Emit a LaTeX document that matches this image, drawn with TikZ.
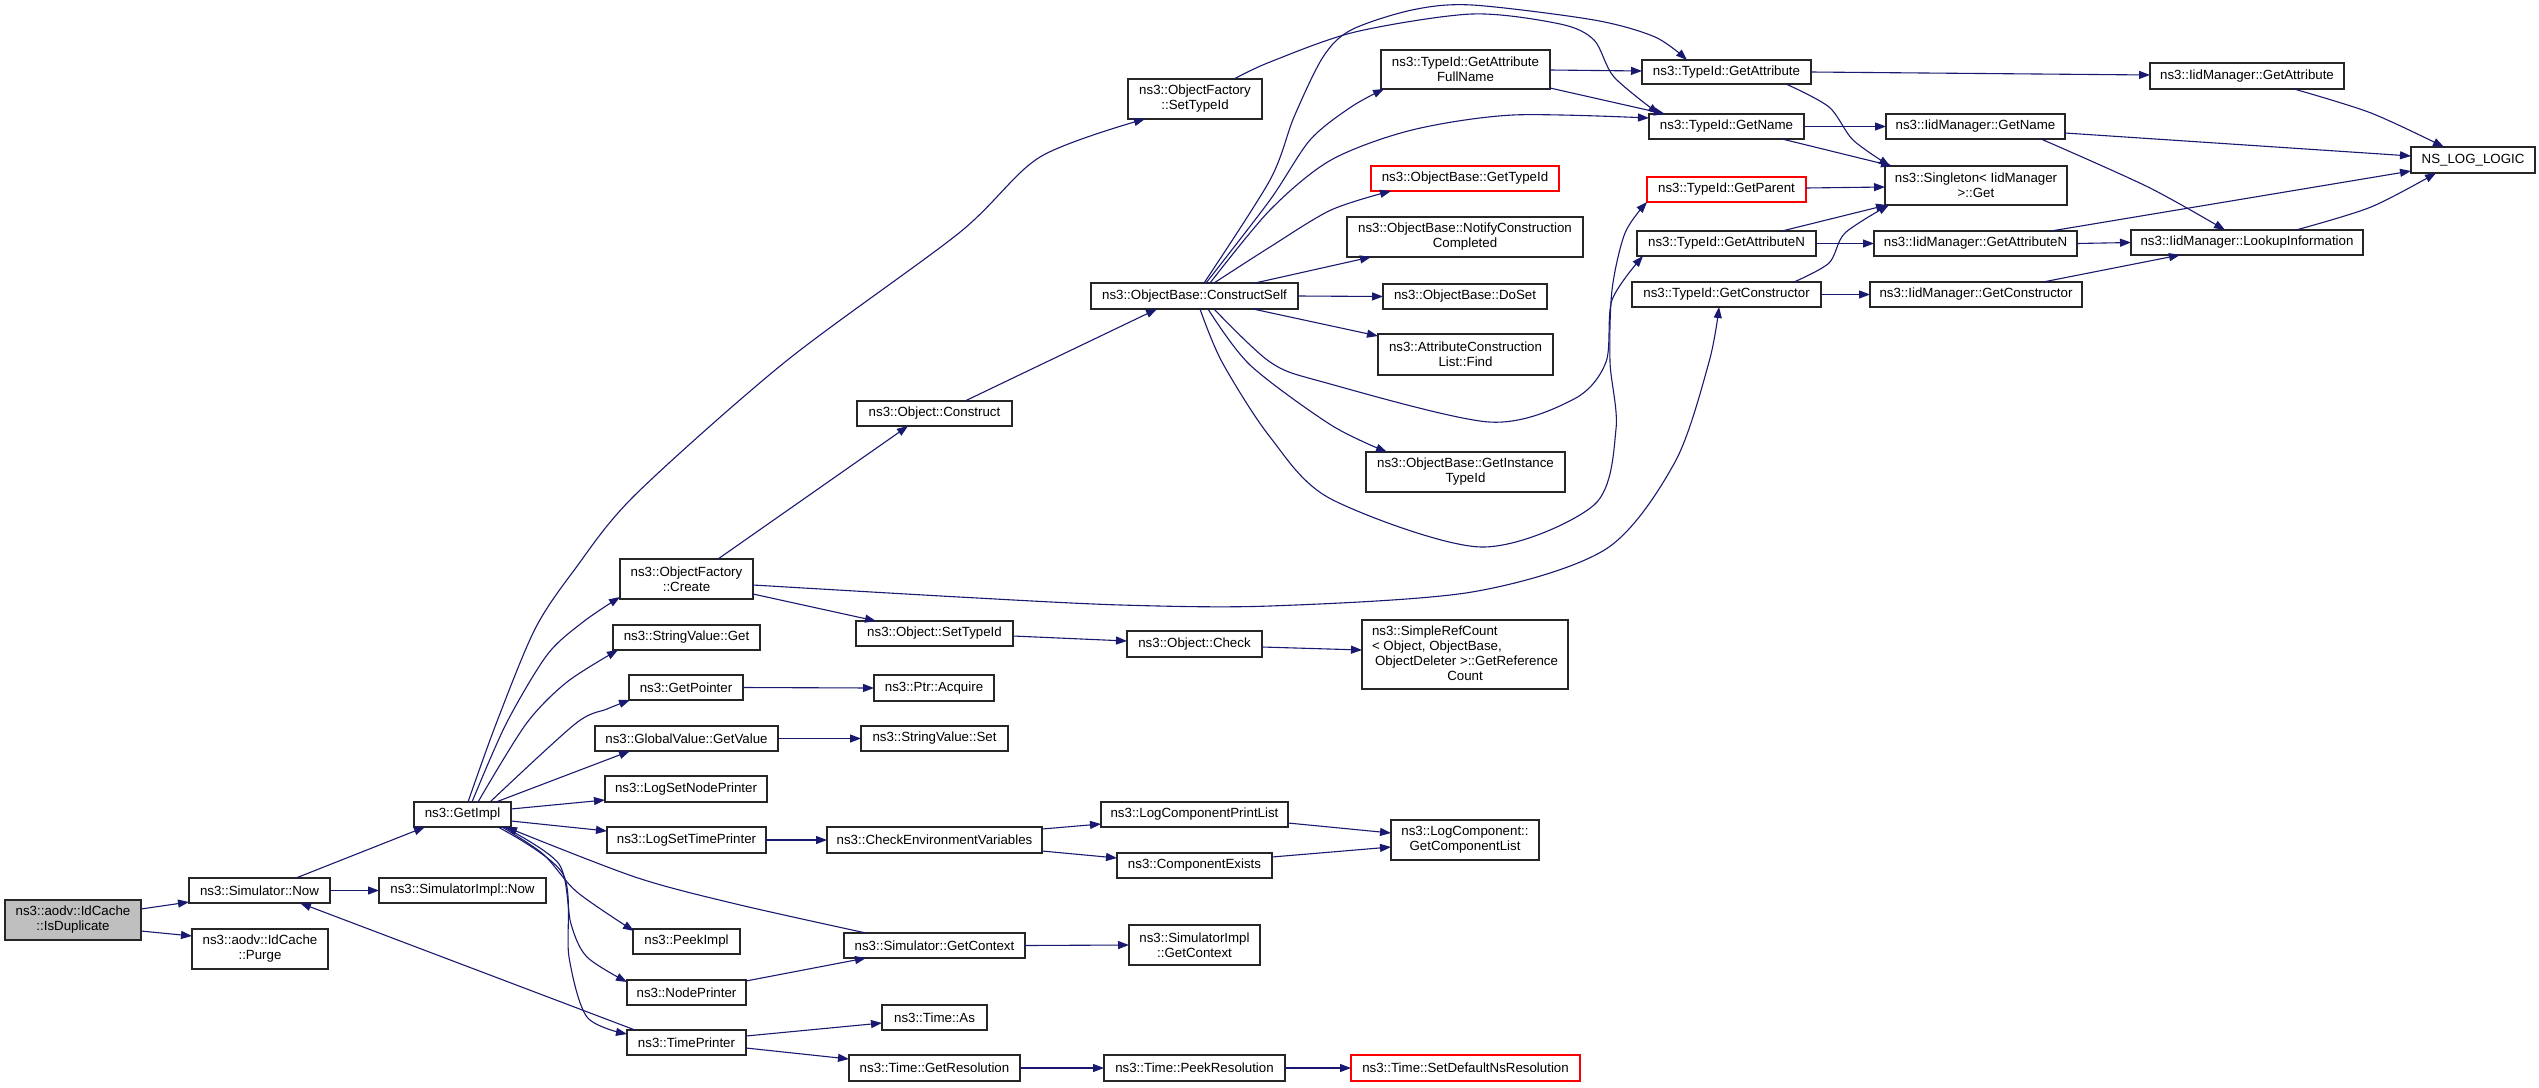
\documentclass[tikz,border=0pt]{standalone}
\usepackage{fontspec}
\setmainfont{Liberation Sans}
\usetikzlibrary{arrows.meta}
\definecolor{mnb}{HTML}{191970}
\definecolor{g75}{HTML}{BFBFBF}
\tikzset{
  gbox/.style={rectangle, draw=black!85, line width=1.1pt, fill=white, inner sep=0pt, outer sep=0pt, align=center, font=\fontsize{13.3}{15}\selectfont},
  redline/.style={draw=red},
  rootfill/.style={fill=g75},
  gedge/.style={draw=mnb, line width=1.1pt, -{Triangle[length=11pt,width=8pt]}},
  sm/.style={smooth, tension=0.5}
}
\newcommand\gn[7]{\node[gbox,#6,minimum width={#4-#2},minimum height={#5-#3}] (#1) at ({(#2+#4)/2},{(#3+#5)/2}) {#7};}
\begin{document}
\begin{tikzpicture}[x=1pt,y=-1pt]
\useasboundingbox (0,0) rectangle (2539,1087);
\fill[white] (0,0) rectangle (2539,1087);
% nodes
\gn{isdup}{5}{900}{141}{940}{rootfill}{ns3::aodv::IdCache\\::IsDuplicate}
\gn{simnow}{189}{878}{330}{903}{}{ns3::Simulator::Now}
\gn{purge}{192}{929}{328}{969}{}{ns3::aodv::IdCache\\::Purge}
\gn{simimplnow}{379}{878}{546}{903}{}{ns3::SimulatorImpl::Now}
\gn{getimpl}{414}{802}{511}{827}{}{ns3::GetImpl}
\gn{ofsettypeid}{1128}{79}{1262}{119}{}{ns3::ObjectFactory\\::SetTypeId}
\gn{ofcreate}{620}{559}{753}{599}{}{ns3::ObjectFactory\\::Create}
\gn{svget}{613}{625}{760}{650}{}{ns3::StringValue::Get}
\gn{getpointer}{629}{675}{743}{700}{}{ns3::GetPointer}
\gn{gvgetvalue}{595}{726}{778}{751}{}{ns3::GlobalValue::GetValue}
\gn{logsetnode}{605}{776}{767}{802}{}{ns3::LogSetNodePrinter}
\gn{logsettime}{607}{827}{766}{853}{}{ns3::LogSetTimePrinter}
\gn{peekimpl}{633}{929}{740}{954}{}{ns3::PeekImpl}
\gn{nodeprinter}{627}{980}{746}{1005}{}{ns3::NodePrinter}
\gn{timeprinter}{627}{1030}{746}{1055}{}{ns3::TimePrinter}
\gn{objconstruct}{857}{401}{1012}{426}{}{ns3::Object::Construct}
\gn{objsettypeid}{856}{621}{1013}{646}{}{ns3::Object::SetTypeId}
\gn{ptracquire}{874}{675}{994}{701}{}{ns3::Ptr::Acquire}
\gn{svset}{861}{726}{1008}{751}{}{ns3::StringValue::Set}
\gn{checkenv}{827}{827}{1042}{853}{}{ns3::CheckEnvironmentVariables}
\gn{simgetctx}{844}{933}{1025}{958}{}{ns3::Simulator::GetContext}
\gn{timeas}{882}{1005}{987}{1030}{}{ns3::Time::As}
\gn{getres}{849}{1055}{1020}{1081}{}{ns3::Time::GetResolution}
\gn{constructself}{1091}{283}{1298}{309}{}{ns3::ObjectBase::ConstructSelf}
\gn{objcheck}{1127}{631}{1262}{657}{}{ns3::Object::Check}
\gn{logcpl}{1101}{802}{1288}{827}{}{ns3::LogComponentPrintList}
\gn{compexists}{1117}{853}{1272}{878}{}{ns3::ComponentExists}
\gn{simimplgetctx}{1129}{925}{1260}{965}{}{ns3::SimulatorImpl\\::GetContext}
\gn{peekres}{1104}{1055}{1285}{1081}{}{ns3::Time::PeekResolution}
\gn{fullname}{1381}{50}{1550}{89}{}{ns3::TypeId::GetAttribute\\FullName}
\gn{obgettypeid}{1371}{166}{1559}{191}{redline}{ns3::ObjectBase::GetTypeId}
\gn{notify}{1347}{217}{1583}{257}{}{ns3::ObjectBase::NotifyConstruction\\Completed}
\gn{doset}{1383}{284}{1547}{309}{}{ns3::ObjectBase::DoSet}
\gn{find}{1378}{334}{1553}{375}{}{ns3::AttributeConstruction\\List::Find}
\gn{instancetid}{1366}{452}{1565}{492}{}{ns3::ObjectBase::GetInstance\\TypeId}
\gn{simplerefcount}{1362}{620}{1568}{689}{}{\begin{tabular}{@{}l@{}}ns3::SimpleRefCount\\< Object, ObjectBase,\\\hspace{3pt}ObjectDeleter >::GetReference\\\multicolumn{1}{@{}c@{}}{Count}\end{tabular}}
\gn{getcomplist}{1391}{820}{1539}{860}{}{ns3::LogComponent::\\GetComponentList}
\gn{setdefault}{1351}{1055}{1580}{1081}{redline}{ns3::Time::SetDefaultNsResolution}
\gn{tgetattr}{1642}{60}{1811}{84}{}{ns3::TypeId::GetAttribute}
\gn{tgetname}{1649}{114}{1804}{139}{}{ns3::TypeId::GetName}
\gn{tgetparent}{1647}{177}{1806}{202}{redline}{ns3::TypeId::GetParent}
\gn{tgetattrn}{1637}{231}{1816}{256}{}{ns3::TypeId::GetAttributeN}
\gn{tgetctor}{1632}{282}{1821}{307}{}{ns3::TypeId::GetConstructor}
\gn{singleton}{1885}{166}{2067}{205}{}{ns3::Singleton< IidManager\\>::Get}
\gn{iidgetname}{1886}{114}{2065}{139}{}{ns3::IidManager::GetName}
\gn{iidgetattrn}{1874}{231}{2077}{256}{}{ns3::IidManager::GetAttributeN}
\gn{iidgetctor}{1870}{282}{2082}{307}{}{ns3::IidManager::GetConstructor}
\gn{iidgetattr}{2150}{63}{2344}{89}{}{ns3::IidManager::GetAttribute}
\gn{nslog}{2411}{147}{2535}{173}{}{NS\_LOG\_LOGIC}
\gn{lookup}{2131}{230}{2363}{255}{}{ns3::IidManager::LookupInformation}
% edges
\draw[gedge] ([xshift=136pt,yshift=-9pt]isdup.north west) -- ([yshift=-24pt]simnow.north west);
\draw[gedge] ([xshift=136pt,yshift=-31pt]isdup.north west) -- ([yshift=-7pt]purge.north west);
\draw[gedge] ([xshift=107pt]simnow.north west) -- ([xshift=11pt]getimpl.south west);
\draw[gedge] (simnow.east) -- (simimplnow.west);
\draw[gedge] ([xshift=8pt]timeprinter.north west) -- ([xshift=111pt]simnow.south west);
\draw[gedge] ([yshift=-7pt]getimpl.north east) -- ([yshift=-24pt]logsetnode.north west);
\draw[gedge] ([yshift=-19pt]getimpl.north east) -- ([yshift=-4pt]logsettime.north west);
\draw[gedge] ([xshift=82pt]getimpl.north west) -- ([xshift=35pt]gvgetvalue.south west);
\draw[gedge] plot[sm] coordinates {([xshift=54pt]getimpl.north west) (496,724) (535,629) (575,569) (635,495) (785,362) (959,233) (1040,157) ([xshift=17pt]ofsettypeid.south west)};
\draw[gedge] plot[sm] coordinates {([xshift=58pt]getimpl.north west) (506,724) (547,655) (583,622) ([yshift=2pt]ofcreate.south west)};
\draw[gedge] plot[sm] coordinates {([xshift=64pt]getimpl.north west) (526,724) (567,682) ([xshift=5pt]svget.south west)};
\draw[gedge] plot[sm] coordinates {([xshift=76pt]getimpl.north west) (575,724) (607,709) ([xshift=1pt]getpointer.south west)};
\draw[gedge] plot[sm] coordinates {([xshift=88pt]getimpl.south west) (543,854) (577,892) ([xshift=1pt,yshift=-2pt]peekimpl.north west)};
\draw[gedge] plot[sm] coordinates {([xshift=90pt]getimpl.south west) (559,864) (571,924) (587,957) ([yshift=-2pt]nodeprinter.north west)};
\draw[gedge] plot[sm] coordinates {([xshift=84pt]getimpl.south west) (563,874) (569,957) (587,1017) ([yshift=-4pt]timeprinter.north west)};
\draw[gedge] plot[sm] coordinates {([xshift=22pt]simgetctx.north west) (736,904) (635,877) ([xshift=92pt]getimpl.south west)};
\draw[gedge] (gvgetvalue.east) -- (svset.west);
\draw[gedge] (logsettime.east) -- (checkenv.west);
\draw[gedge] ([yshift=-2pt]checkenv.north east) -- ([yshift=-22pt]logcpl.north west);
\draw[gedge] ([yshift=-24pt]checkenv.north east) -- ([yshift=-5pt]compexists.north west);
\draw[gedge] ([yshift=-1pt]nodeprinter.north east) -- ([xshift=22pt]simgetctx.south west);
\draw[gedge] (simgetctx.east) -- (simimplgetctx.west);
\draw[gedge] ([yshift=-6pt]timeprinter.north east) -- ([yshift=-18pt]timeas.north west);
\draw[gedge] ([yshift=-18pt]timeprinter.north east) -- ([yshift=-4pt]getres.north west);
\draw[gedge] (getres.east) -- (peekres.west);
\draw[gedge] (peekres.east) -- (setdefault.west);
\draw[gedge] ([yshift=-21pt]logcpl.north east) -- ([yshift=-13pt]getcomplist.north west);
\draw[gedge] ([yshift=-4pt]compexists.north east) -- ([yshift=-27pt]getcomplist.north west);
\draw[gedge] ([xshift=98pt]ofcreate.north west) -- ([xshift=51pt]objconstruct.south west);
\draw[gedge] ([yshift=-35pt]ofcreate.north east) -- ([xshift=20pt]objsettypeid.north west);
\draw[gedge] plot[sm] coordinates {([yshift=-26pt]ofcreate.north east) (959,597) (1121,605) (1270,606) (1472,592) (1606,549) (1675,462) (1709,362) ([xshift=87pt]tgetctor.south west)};
\draw[gedge] ([xshift=108pt]objconstruct.north west) -- ([xshift=66pt]constructself.south west);
\draw[gedge] ([yshift=-15pt]objsettypeid.north east) -- ([yshift=-10pt]objcheck.north west);
\draw[gedge] ([yshift=-16pt]objcheck.north east) -- ([yshift=-30pt]simplerefcount.north west);
\draw[gedge] (getpointer.east) -- (ptracquire.west);
\draw[gedge] plot[sm] coordinates {([xshift=106pt]ofsettypeid.north west) (1270,62) (1355,32) (1472,14) (1560,24) (1594,40) (1614,77) ([xshift=10pt]tgetname.north west)};
\draw[gedge] ([yshift=-20pt]fullname.north east) -- ([yshift=-11pt]tgetattr.north west);
\draw[gedge] ([yshift=1pt]fullname.south east) -- ([xshift=16pt]tgetname.north west);
\draw[gedge] ([yshift=-12pt]tgetattr.north east) -- ([yshift=-12pt]iidgetattr.north west);
\draw[gedge] plot[sm] coordinates {([xshift=-25pt]tgetattr.south east) (1829,107) (1853,140) ([xshift=5pt]singleton.north west)};
\draw[gedge] (tgetname.east) -- (iidgetname.west);
\draw[gedge] ([xshift=-22pt]tgetname.south east) -- ([xshift=7pt]singleton.north west);
\draw[gedge] ([yshift=-11pt]tgetparent.north east) -- ([yshift=-21pt]singleton.north west);
\draw[gedge] ([xshift=-34pt]tgetattrn.north east) -- ([xshift=2pt]singleton.south west);
\draw[gedge] (tgetattrn.east) -- (iidgetattrn.west);
\draw[gedge] plot[sm] coordinates {([xshift=-27pt]tgetctor.north east) (1829,263) (1845,233) ([xshift=4pt]singleton.south west)};
\draw[gedge] (tgetctor.east) -- (iidgetctor.west);
\draw[gedge] plot[sm] coordinates {([xshift=144pt]iidgetattr.south west) (2371,113) ([xshift=33pt]nslog.north west)};
\draw[gedge] ([yshift=-19pt]iidgetname.north east) -- ([yshift=-9pt]nslog.north west);
\draw[gedge] plot[sm] coordinates {([xshift=155pt]iidgetname.south west) (2148,187) ([xshift=94pt]lookup.north west)};
\draw[gedge] ([xshift=177pt]iidgetattrn.north west) -- ([yshift=-24pt]nslog.north west);
\draw[gedge] (iidgetattrn.east) -- (lookup.west);
\draw[gedge] ([xshift=173pt]iidgetctor.north west) -- ([xshift=49pt]lookup.south west);
\draw[gedge] plot[sm] coordinates {([xshift=165pt]lookup.north west) (2371,207) ([xshift=25pt]nslog.south west)};
\draw[gedge] (constructself.east) -- (doset.west);
\draw[gedge] ([xshift=164pt]constructself.north west) -- ([xshift=24pt]notify.south west);
\draw[gedge] ([xshift=162pt]constructself.south west) -- ([yshift=-2pt]find.north west);
\draw[gedge] plot[sm] coordinates {([xshift=123pt]constructself.north west) (1270,247) (1331,210) ([xshift=20pt]obgettypeid.south west)};
\draw[gedge] plot[sm] coordinates {([xshift=113pt]constructself.north west) (1270,180) (1294,117) (1323,57) (1351,30) (1412,10) (1472,5) (1594,20) (1655,37) ([xshift=45pt]tgetattr.north west)};
\draw[gedge] plot[sm] coordinates {([xshift=115pt]constructself.north west) (1270,200) (1310,140) (1351,107) ([xshift=3pt]fullname.south west)};
\draw[gedge] plot[sm] coordinates {([xshift=119pt]constructself.north west) (1270,210) (1331,160) (1412,130) (1513,115) ([yshift=-4pt]tgetname.north west)};
\draw[gedge] plot[sm] coordinates {([xshift=117pt]constructself.south west) (1250,365) (1331,425) ([xshift=21pt]instancetid.north west)};
\draw[gedge] plot[sm] coordinates {([xshift=123pt]constructself.south west) (1270,362) (1323,382) (1489,422) (1574,399) (1606,362) (1612,300) ([xshift=6pt]tgetattrn.south west)};
\draw[gedge] plot[sm] coordinates {([xshift=109pt]constructself.south west) (1222,362) (1270,437) (1331,499) (1481,547) (1594,505) (1616,429) (1610,362) (1612,290) (1625,233) (tgetparent.south west)};
\end{tikzpicture}
\end{document}
